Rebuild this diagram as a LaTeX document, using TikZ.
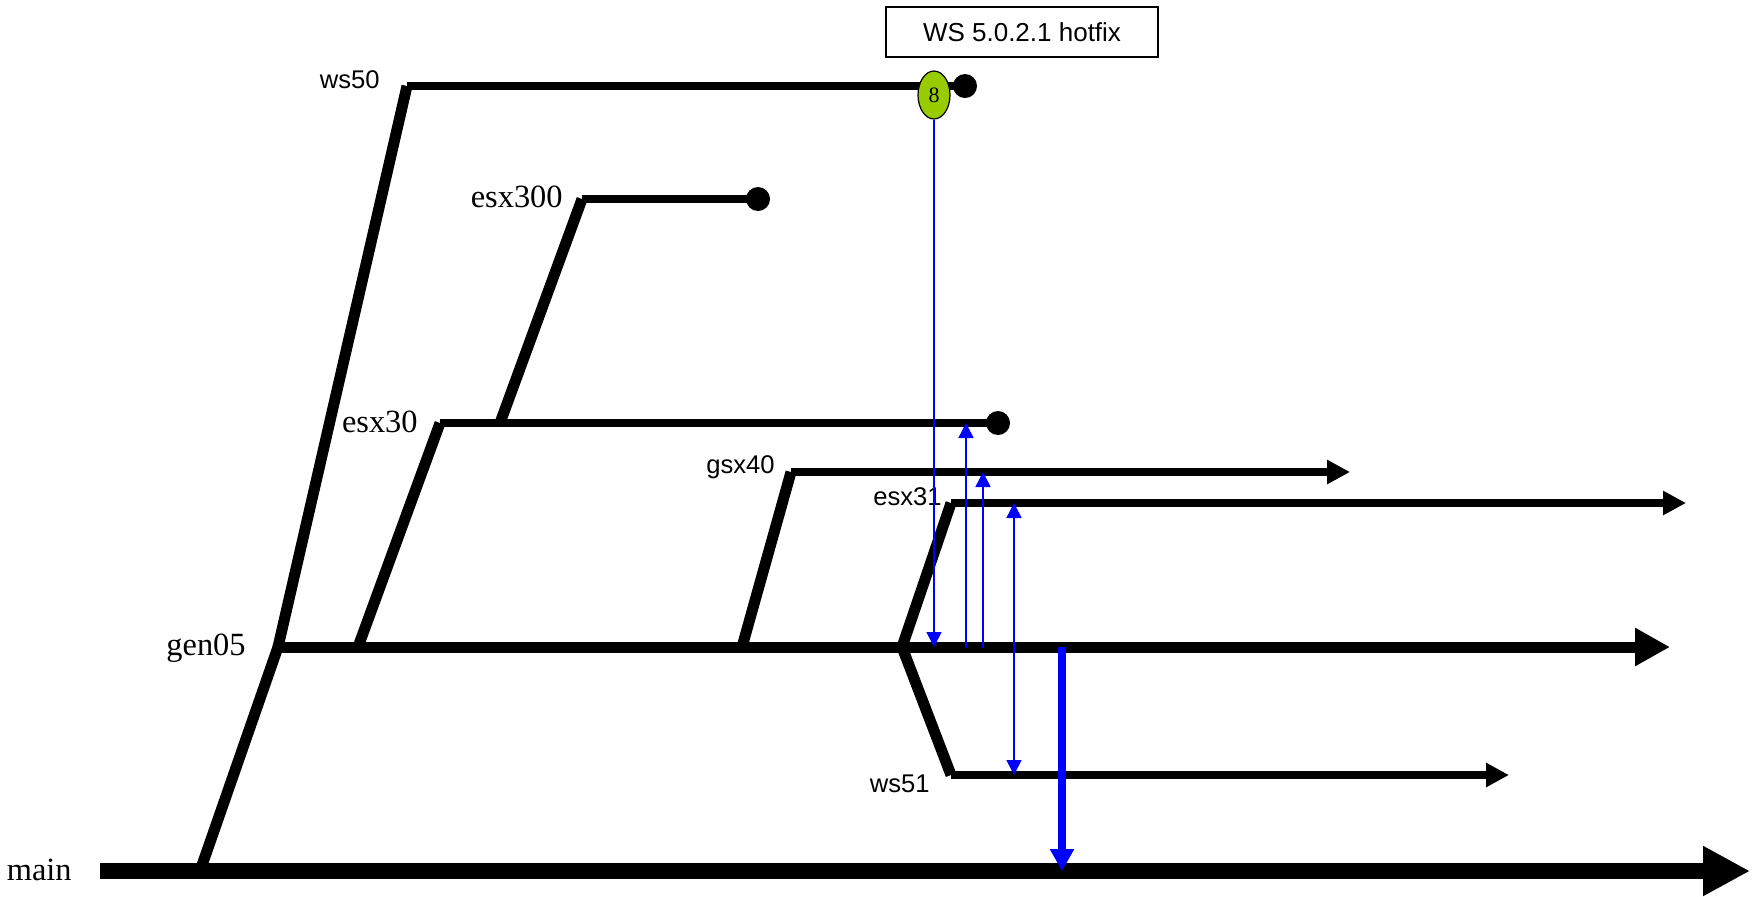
\documentclass[tikz,border=0pt]{standalone}
\usepackage{fontspec}
\setmainfont{Liberation Serif}
\newfontfamily\arialfont{Liberation Sans}
\usetikzlibrary{arrows.meta, shapes.geometric, positioning}
\definecolor{hotgreen}{RGB}{153,204,0}
\tikzset{
    trunk/.style={line width=8pt, -{Triangle[length=23.5pt, width=23.5pt]}}, % the main line
    genline/.style={line width=5.5pt, -{Triangle[length=17.5pt, width=18pt]}}, % the gen05 line
    fork/.style={line width=5.5pt}, % slanted piece where a branch leaves its parent
    branch/.style={line width=4pt}, % a branch that has been closed
    live/.style={branch, -{Triangle[length=11.5pt, width=11.5pt]}}, % a branch still open
    stop/.style={circle, fill=black, minimum size=12pt, inner sep=0pt}, % end of a closed branch
    merge/.style={blue, line width=0.8pt, -{Triangle[length=7.5pt, width=7.5pt]}}, % thin merge arrow
    bigmerge/.style={blue, line width=4pt, -{Triangle[length=11pt, width=11.5pt]}}, % thick merge arrow
    lbl/.style={anchor=base east, inner sep=0pt, font=\fontsize{16.2}{19}\selectfont}, % serif names
    albl/.style={anchor=base east, inner sep=0pt, font=\arialfont\fontsize{12.8}{15}\selectfont}, % sans names
    tag/.style={ellipse, draw, line width=0.6pt, fill=hotgreen, minimum width=16pt, minimum height=24pt, inner sep=0pt, font=\fontsize{11}{13}\selectfont},
    note/.style={draw, line width=0.6pt, minimum width=136pt, minimum height=25pt, inner sep=0pt, font=\arialfont\fontsize{13}{15}\selectfont},
}
\begin{document}
\begin{tikzpicture}[x=0.5pt, y=-0.5pt]
\useasboundingbox (0,0) rectangle (1755,896);
% points of the lines
\coordinate (main-s) at (100,871);
\coordinate (main-e) at (1750,871);
\coordinate (main-f) at (200,871);
\coordinate (gen-s) at (278,647);
\coordinate (gen-e) at (1670,647);
\coordinate (ws50-s) at (407,86);
\coordinate (esx30-f) at (358,647);
\coordinate (esx30-s) at (440,423);
\coordinate (esx300-f) at (500,423);
\coordinate (esx300-s) at (582,199);
\coordinate (gsx40-f) at (742,647);
\coordinate (gsx40-s) at (791,472);
\coordinate (gsx40-e) at (1350,472);
\coordinate (esx31-f) at (902,647);
\coordinate (esx31-s) at (951,503);
\coordinate (esx31-e) at (1686,503);
\coordinate (ws51-s) at (951,775);
\coordinate (ws51-e) at (1509,775);
\node[stop] (ws50-x) at (965,86) {};
\node[stop] (esx300-x) at (758,199) {};
\node[stop] (esx30-x) at (998,423) {};
% names
\node[lbl] (main) at (72,880) {main};
\node[lbl] (gen05) at (246,655) {gen05};
\node[albl] (ws50) at (380,88) {ws50};
\node[lbl] (esx300) at (563,207) {esx300};
\node[lbl] (esx30) at (418,432) {esx30};
\node[albl] (gsx40) at (775,473) {gsx40};
\node[albl] (esx31) at (942,505) {esx31};
\node[albl] (ws51) at (930,792) {ws51};
% lines
\draw[trunk] (main-s) -- (main-e);
\draw[fork] (main-f) -- (gen-s);
\draw[genline] (gen-s) -- (gen-e);
\draw[fork] (gen-s) -- (ws50-s);
\draw[branch] (ws50-s) -- (ws50-x.center);
\draw[fork] (esx30-f) -- (esx30-s);
\draw[branch] (esx30-s) -- (esx30-x.center);
\draw[fork] (esx300-f) -- (esx300-s);
\draw[branch] (esx300-s) -- (esx300-x.center);
\draw[fork] (gsx40-f) -- (gsx40-s);
\draw[live] (gsx40-s) -- (gsx40-e);
\draw[fork] (esx31-f) -- (esx31-s);
\draw[live] (esx31-s) -- (esx31-e);
\draw[fork] (esx31-f) -- (ws51-s);
\draw[live] (ws51-s) -- (ws51-e);
% hotfix
\node[note] (hfbox) at (1022,32) {WS 5.0.2.1 hotfix};
\node[tag] (hf8) at (934,95) {8};
% merges
\draw[merge] (hf8.south) -- (hf8.south |- gen-s);
\draw[merge] (966,648) coordinate (m1) -- (m1 |- esx30-s);
\draw[merge] (983,648) coordinate (m2) -- (m2 |- gsx40-s);
\draw[merge, {Triangle[length=7.5pt, width=7.5pt]}-{Triangle[length=7.5pt, width=7.5pt]}] (1014,503) coordinate (m3) -- (m3 |- ws51-s);
\draw[bigmerge] (1062,647) coordinate (m4) -- (m4 |- main-s);
\end{tikzpicture}
\end{document}
